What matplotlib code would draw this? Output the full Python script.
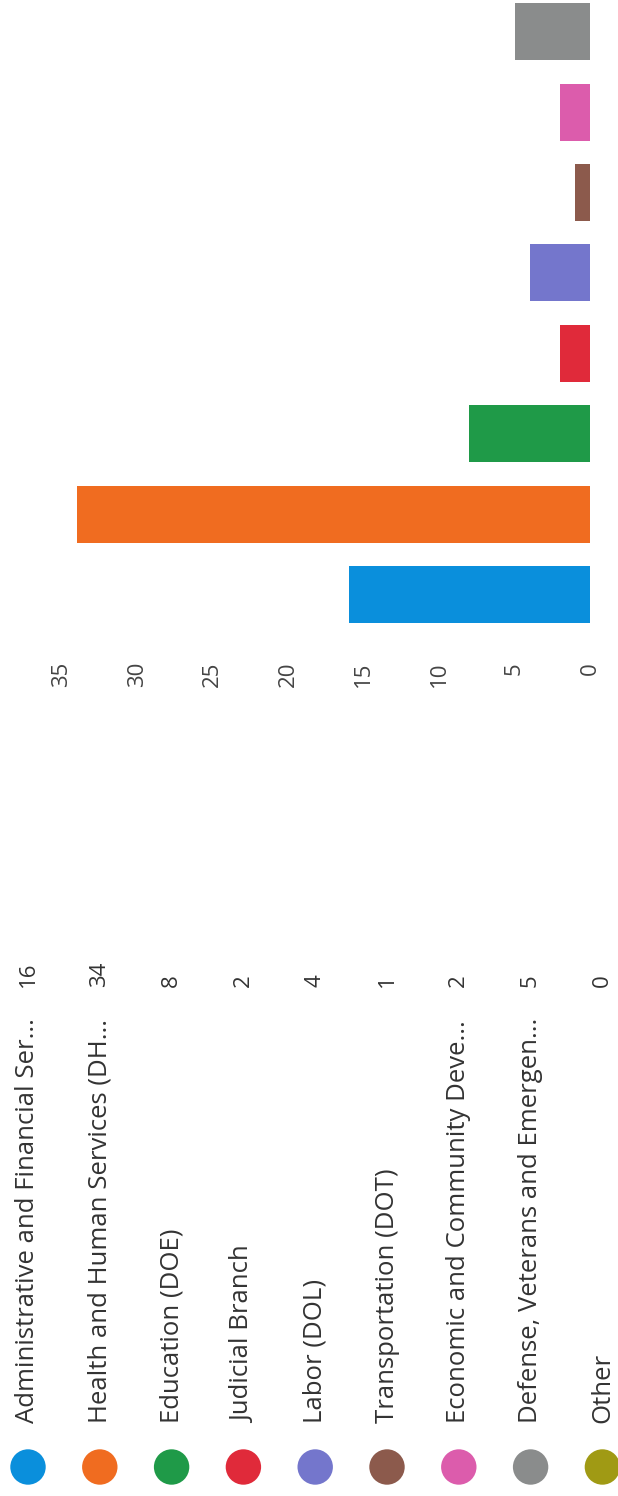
import matplotlib
matplotlib.use("Agg")
import matplotlib.pyplot as plt
import numpy as np

plt.rcParams['font.family'] = ['Open Sans', 'DejaVu Sans']

# data
categories = [
    "Administrative and Financial Ser...",
    "Health and Human Services (DH...",
    "Education (DOE)",
    "Judicial Branch",
    "Labor (DOL)",
    "Transportation (DOT)",
    "Economic and Community Deve...",
    "Defense, Veterans and Emergen...",
    "Other",
]
counts = [16, 34, 8, 2, 4, 1, 2, 5, 0]
colors = ["#0a8fdc", "#f06c20", "#1f9a48", "#e02a3a", "#7476cc",
          "#8c5a4c", "#dc5cac", "#8a8c8c", "#a09a14"]
ticks = [0, 5, 10, 15, 20, 25, 30, 35]

W, H = 618, 1496
fig = plt.figure(figsize=(W / 100, H / 100), dpi=100)

# bar part (whole chart is turned 90 degrees)
ax = fig.add_axes([0, 1 - 655 / H, 590 / W, 655 / H])
pos = np.arange(len(categories))
ax.barh(pos, counts, height=0.71, color=colors)
ax.set_xlim(590 / 15.09, 0)
ax.set_ylim((594.5 - 655) / 80.4, 594.5 / 80.4)
ax.set_xticks(ticks)
ax.set_xticklabels([str(t) for t in ticks], rotation=90, fontsize=16, color="#444444")
ax.tick_params(axis='x', length=0, pad=5)
ax.set_yticks([])
for s in ax.spines.values():
    s.set_visible(False)

# legend part
lg = fig.add_axes([0, 0, 1, 1])
lg.set_xlim(0, W)
lg.set_ylim(H, 0)
lg.axis('off')
xs = 28 + 71.8 * np.arange(len(categories))
lg.scatter(xs, [1467] * len(xs), s=650, c=colors, linewidths=0)
for x, name, n in zip(xs, categories, counts):
    lg.text(x, 1423, name, rotation=90, ha='center', va='bottom',
            fontsize=18.5, color="#333333")
    lg.text(x, 987, str(n), rotation=90, ha='center', va='bottom',
            fontsize=16, color="#333333")

fig.savefig("out.png", dpi=100)
